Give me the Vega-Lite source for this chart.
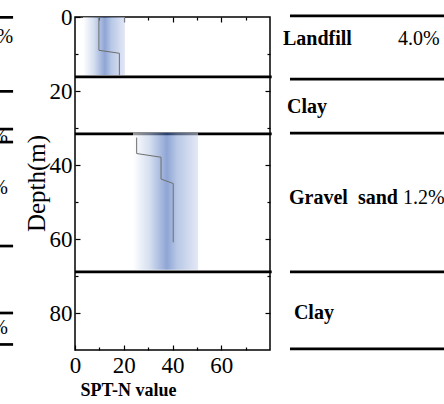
{
  "$schema": "https://vega.github.io/schema/vega-lite/v6.json",
  "width": 195,
  "height": 333,
  "autosize": {"type": "none"},
  "padding": {"left": 75, "top": 17, "right": 174, "bottom": 54},
  "background": "white",
  "config": {
    "view": {"stroke": "black", "strokeWidth": 1.5},
    "font": "Liberation Serif",
    "axis": {
      "domain": false,
      "grid": false,
      "tickColor": "black",
      "tickWidth": 1.2,
      "labelFont": "Liberation Serif",
      "labelFontSize": 23,
      "labelColor": "black",
      "titleFont": "Liberation Serif",
      "titleColor": "black"
    }
  },
  "datasets": {
    "lines": [
      {"from": 0, "to": 80.7, "depth": 16.2},
      {"from": 0, "to": 80.7, "depth": 31.6},
      {"from": 0, "to": 80.7, "depth": 68.9},
      {"from": 88.2, "to": 156, "depth": -0.3},
      {"from": 88.2, "to": 156, "depth": 16.8},
      {"from": 88.2, "to": 156, "depth": 31.4},
      {"from": 88.2, "to": 156, "depth": 68.9},
      {"from": 88.2, "to": 156, "depth": 89.7},
      {"from": -32, "to": -25.4, "depth": 0.1},
      {"from": -32, "to": -25.4, "depth": 20.1},
      {"from": -32, "to": -25.4, "depth": 30.3},
      {"from": -32, "to": -25.4, "depth": 33.8},
      {"from": -32, "to": -25.4, "depth": 61.9},
      {"from": -32, "to": -25.4, "depth": 80.0},
      {"from": -32, "to": -25.4, "depth": 88.5}
    ],
    "bands": [
      {"layerName": "Landfill", "nLow": 3.3, "nHigh": 20.5, "top": 0, "bottom": 15.7},
      {"layerName": "Gravel sand", "nLow": 23.8, "nHigh": 50.5, "top": 31.3, "bottom": 68.3}
    ],
    "spt": [
      {"hole": "A", "i": 1, "n": 9.8, "depth": 0},
      {"hole": "A", "i": 2, "n": 9.8, "depth": 9.0},
      {"hole": "A", "i": 3, "n": 18.2, "depth": 9.8},
      {"hole": "A", "i": 4, "n": 18.2, "depth": 15.7},
      {"hole": "B", "i": 1, "n": 25.3, "depth": 32.6},
      {"hole": "B", "i": 2, "n": 25.3, "depth": 36.9},
      {"hole": "B", "i": 3, "n": 35.3, "depth": 37.9},
      {"hole": "B", "i": 4, "n": 35.3, "depth": 43.8},
      {"hole": "B", "i": 5, "n": 40.3, "depth": 45.0},
      {"hole": "B", "i": 6, "n": 40.3, "depth": 60.9}
    ],
    "soilNames": [
      {"label": "Landfill", "x": 85.3, "depth": 5.9},
      {"label": "Clay", "x": 87, "depth": 24.3},
      {"label": "Gravel\u00a0\u00a0sand", "x": 87.8, "depth": 48.9},
      {"label": "Clay", "x": 89.8, "depth": 80}
    ],
    "ratios": [
      {"label": "4.0%", "x": 132.5, "depth": 5.9},
      {"label": "1.2%", "x": 134.6, "depth": 48.9}
    ],
    "fragments": [
      {"label": "4.0%", "x": -25.4, "depth": 5.4},
      {"label": "2.5%", "x": -27.5, "depth": 32.4},
      {"label": "1.2%", "x": -27.5, "depth": 46.2},
      {"label": "3.0%", "x": -27.5, "depth": 84}
    ]
  },
  "resolve": {"axis": {"x": "independent", "y": "independent"}},
  "layer": [
    {
      "data": {"name": "lines"},
      "mark": {"type": "rule", "color": "black", "strokeWidth": 2.7},
      "encoding": {
        "x": {
          "field": "from", "type": "quantitative",
          "scale": {"domain": [0, 80], "nice": false, "zero": false},
          "axis": {
            "orient": "bottom", "values": [0, 20, 40, 60], "tickSize": -5,
            "labelPadding": 9, "labelFlush": false,
            "title": "SPT-N value", "titleFontSize": 18, "titleFontWeight": "bold",
            "titleX": 53, "titleY": 40, "titleAlign": "center", "titleBaseline": "middle"
          }
        },
        "x2": {"field": "to"},
        "y": {
          "field": "depth", "type": "quantitative",
          "scale": {"domain": [0, 90], "reverse": true, "nice": false, "zero": false},
          "axis": {
            "orient": "left", "values": [0, 20, 40, 60, 80], "tickSize": -5,
            "labelPadding": 8, "labelFlush": false,
            "title": "Depth(m)", "titleFontSize": 25, "titleFontWeight": "normal",
            "titleX": -39, "titleY": 166, "titleAlign": "center", "titleBaseline": "middle"
          }
        }
      }
    },
    {
      "data": {"name": "bands"},
      "mark": {
        "type": "rect",
        "opacity": 0.6,
        "color": {
          "gradient": "linear", "x1": 0, "x2": 1, "y1": 0, "y2": 0,
          "stops": [
            {"offset": 0, "color": "#ffffff"},
            {"offset": 0.25, "color": "#bbcbe6"},
            {"offset": 0.52, "color": "#4469b7"},
            {"offset": 0.68, "color": "#89a3d5"},
            {"offset": 1, "color": "#d2d9f0"}
          ]
        }
      },
      "encoding": {
        "x": {
          "field": "nLow", "type": "quantitative",
          "scale": {"domain": [0, 80], "nice": false, "zero": false},
          "axis": {"orient": "bottom", "values": [10, 30, 50, 70], "tickSize": -3, "labels": false, "title": null}
        },
        "x2": {"field": "nHigh"},
        "y": {
          "field": "top", "type": "quantitative",
          "scale": {"domain": [0, 90], "reverse": true, "nice": false, "zero": false},
          "axis": {"orient": "left", "values": [10, 30, 50, 70], "tickSize": -3, "labels": false, "title": null}
        },
        "y2": {"field": "bottom"}
      }
    },
    {
      "data": {"name": "spt"},
      "mark": {"type": "line", "color": "#6e6e6e", "strokeWidth": 1},
      "encoding": {
        "x": {
          "field": "n", "type": "quantitative",
          "scale": {"domain": [0, 80], "nice": false, "zero": false},
          "axis": {"orient": "top", "values": [20, 40, 60], "tickSize": -5, "labels": false, "title": null}
        },
        "y": {
          "field": "depth", "type": "quantitative",
          "scale": {"domain": [0, 90], "reverse": true, "nice": false, "zero": false},
          "axis": {"orient": "right", "values": [20, 40, 60, 80], "tickSize": -5, "labels": false, "title": null}
        },
        "detail": {"field": "hole"},
        "order": {"field": "i"}
      }
    },
    {
      "data": {"name": "soilNames"},
      "mark": {"type": "text", "align": "left", "baseline": "middle", "font": "Liberation Serif", "fontSize": 20, "fontWeight": "bold", "color": "black"},
      "encoding": {
        "x": {
          "field": "x", "type": "quantitative",
          "scale": {"domain": [0, 80], "nice": false, "zero": false},
          "axis": {"orient": "top", "values": [10, 30, 50, 70], "tickSize": -3, "labels": false, "title": null}
        },
        "y": {
          "field": "depth", "type": "quantitative",
          "scale": {"domain": [0, 90], "reverse": true, "nice": false, "zero": false},
          "axis": {"orient": "right", "values": [10, 30, 50, 70], "tickSize": -3, "labels": false, "title": null}
        },
        "text": {"field": "label"}
      }
    },
    {
      "data": {"name": "ratios"},
      "mark": {"type": "text", "align": "left", "baseline": "middle", "font": "Liberation Serif", "fontSize": 20, "color": "black"},
      "encoding": {
        "x": {"field": "x", "type": "quantitative", "scale": {"domain": [0, 80], "nice": false, "zero": false}, "axis": null},
        "y": {"field": "depth", "type": "quantitative", "scale": {"domain": [0, 90], "reverse": true, "nice": false, "zero": false}, "axis": null},
        "text": {"field": "label"}
      }
    },
    {
      "data": {"name": "fragments"},
      "mark": {"type": "text", "align": "right", "baseline": "middle", "font": "Liberation Serif", "fontSize": 20, "color": "black"},
      "encoding": {
        "x": {"field": "x", "type": "quantitative", "scale": {"domain": [0, 80], "nice": false, "zero": false}, "axis": null},
        "y": {"field": "depth", "type": "quantitative", "scale": {"domain": [0, 90], "reverse": true, "nice": false, "zero": false}, "axis": null},
        "text": {"field": "label"}
      }
    }
  ]
}
